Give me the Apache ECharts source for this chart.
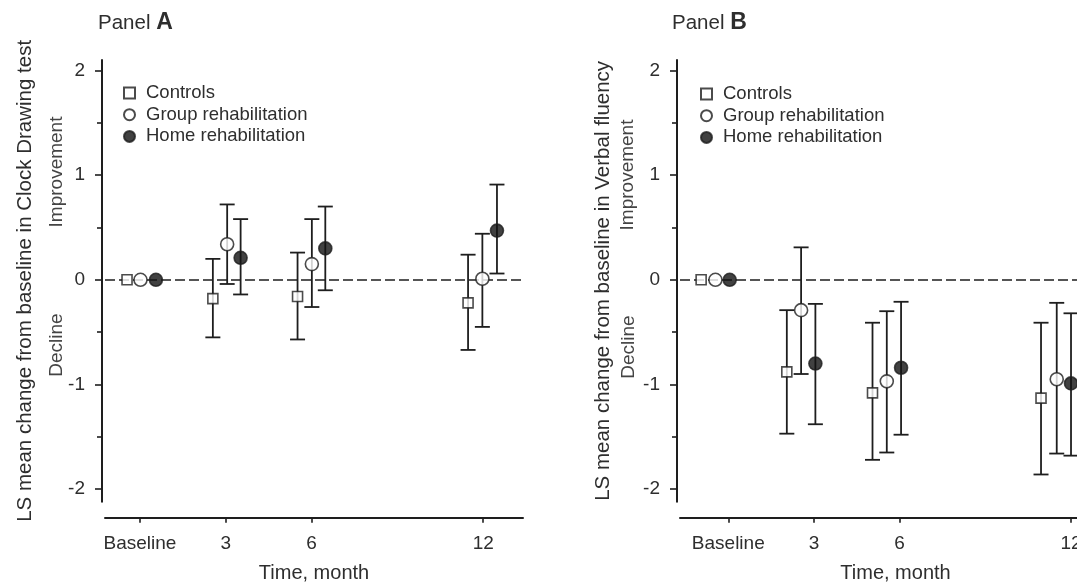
<!DOCTYPE html>
<html>
<head>
<meta charset="utf-8">
<script src="https://cdn.jsdelivr.net/npm/echarts@6/dist/echarts.min.js"></script>
<style>
  html, body { margin: 0; padding: 0; background: #fff; }
  #chart { width: 1077px; height: 584px; }
</style>
</head>
<body>
<div id="chart"></div>
<script>
var seriesNames = ['Controls', 'Group rehabilitation', 'Home rehabilitation'];
var xTickValues = [0, 3, 6, 12];
var xTickLabels = ['Baseline', '3', '6', '12'];
var yTickValues = [-2, -1, 0, 1, 2];
var yMinorTicks = [-1.5, -0.5, 0.5, 1.5];

// Panel A - Clock Drawing test (x in months, points are dodged around each visit)
var aCtrlX = [-0.45, 2.55, 5.51, 11.47];
var aCtrlMean = [0, -0.18, -0.16, -0.22];
var aCtrlLow = [null, -0.55, -0.57, -0.67];
var aCtrlHigh = [null, 0.20, 0.26, 0.24];

var aGroupX = [0.02, 3.05, 6.01, 11.97];
var aGroupMean = [0, 0.34, 0.15, 0.01];
var aGroupLow = [null, -0.04, -0.26, -0.45];
var aGroupHigh = [null, 0.72, 0.58, 0.44];

var aHomeX = [0.56, 3.52, 6.48, 12.48];
var aHomeMean = [0, 0.21, 0.30, 0.47];
var aHomeLow = [null, -0.14, -0.10, 0.06];
var aHomeHigh = [null, 0.58, 0.70, 0.91];

// Panel B - Verbal fluency
var bCtrlX = [-0.95, 2.05, 5.05, 10.95];
var bCtrlMean = [0, -0.88, -1.08, -1.13];
var bCtrlLow = [null, -1.47, -1.72, -1.86];
var bCtrlHigh = [null, -0.29, -0.41, -0.41];

var bGroupX = [-0.45, 2.55, 5.55, 11.5];
var bGroupMean = [0, -0.29, -0.97, -0.95];
var bGroupLow = [null, -0.90, -1.65, -1.66];
var bGroupHigh = [null, 0.31, -0.30, -0.22];

var bHomeX = [0.05, 3.05, 6.05, 12.0];
var bHomeMean = [0, -0.80, -0.84, -0.99];
var bHomeLow = [null, -1.38, -1.48, -1.68];
var bHomeHigh = [null, -0.23, -0.21, -0.32];

var FONT = '"Liberation Sans", Arial, sans-serif';
var INK = '#1e1e1e';
var TXT = '#2e2e2e';

function pts(xs, ys) {
    return xs.map(function (x, i) { return [x, ys[i]]; });
}
function bars(xs, lo, hi) {
    var out = [];
    xs.forEach(function (x, i) {
        if (lo[i] != null) out.push([x, lo[i], hi[i]]);
    });
    return out;
}

function errorBar(params, api) {
    var top = api.coord([api.value(0), api.value(2)]);
    var bot = api.coord([api.value(0), api.value(1)]);
    var hw = 7.5;
    var st = { stroke: INK, lineWidth: 1.8 };
    return {
        type: 'group',
        children: [
            { type: 'line', shape: { x1: top[0], y1: top[1], x2: bot[0], y2: bot[1] }, style: st },
            { type: 'line', shape: { x1: top[0] - hw, y1: top[1], x2: top[0] + hw, y2: top[1] }, style: st },
            { type: 'line', shape: { x1: bot[0] - hw, y1: bot[1], x2: bot[0] + hw, y2: bot[1] }, style: st }
        ]
    };
}

var markerStyles = [
    { symbol: 'rect', symbolSize: 10, itemStyle: { color: '#fff', borderColor: INK, borderWidth: 1.6 } },
    { symbol: 'circle', symbolSize: 13, itemStyle: { color: '#fff', borderColor: INK, borderWidth: 1.6 } },
    { symbol: 'circle', symbolSize: 13, itemStyle: { color: '#111', borderColor: INK, borderWidth: 1.6 } }
];

function panelSeries(g, xsList, meanList, lowList, highList) {
    var out = [];
    for (var k = 0; k < 3; k++) {
        out.push({
            type: 'custom',
            xAxisIndex: g, yAxisIndex: g * 2,
            renderItem: errorBar,
            data: bars(xsList[k], lowList[k], highList[k]),
            z: 2, silent: true
        });
    }
    for (var k2 = 0; k2 < 3; k2++) {
        var s = {
            type: 'scatter',
            name: seriesNames[k2],
            xAxisIndex: g, yAxisIndex: g * 2,
            symbol: markerStyles[k2].symbol,
            symbolSize: markerStyles[k2].symbolSize,
            itemStyle: markerStyles[k2].itemStyle,
            data: pts(xsList[k2], meanList[k2]),
            z: 4
        };
        if (k2 === 0) {
            s.markLine = {
                silent: true, symbol: 'none', z: 1,
                label: { show: false },
                lineStyle: { type: [10, 4], color: INK, width: 1.6 },
                data: [{ yAxis: 0 }]
            };
        }
        out.push(s);
    }
    return out;
}

function xAxisFor(g, min, max) {
    return {
        type: 'value', gridIndex: g, min: min, max: max, position: 'bottom', offset: 16,
        name: 'Time, month', nameLocation: 'middle', nameGap: 46,
        nameTextStyle: { fontFamily: FONT, fontSize: 20, color: TXT },
        axisLine: { show: true, onZero: false, lineStyle: { color: INK, width: 2 } },
        axisTick: { show: true, customValues: xTickValues, length: 5, lineStyle: { color: INK, width: 1.6 } },
        axisLabel: {
            customValues: xTickValues, margin: 17,
            fontFamily: FONT, fontSize: 19, color: TXT,
            formatter: function (v) { return xTickLabels[xTickValues.indexOf(v)]; }
        },
        splitLine: { show: false }
    };
}

function yAxesFor(g, title, gap) {
    return [{
        type: 'value', gridIndex: g, min: -2.12, max: 2.1, position: 'left', offset: 3,
        name: title, nameLocation: 'middle', nameGap: gap, nameRotate: 90,
        nameTextStyle: { fontFamily: FONT, fontSize: 20.5, color: TXT },
        axisLine: { show: true, onZero: false, lineStyle: { color: INK, width: 2 } },
        axisTick: { show: true, customValues: yTickValues, length: 7, lineStyle: { color: INK, width: 1.6 } },
        axisLabel: { customValues: yTickValues, margin: 17, fontFamily: FONT, fontSize: 19, color: TXT },
        splitLine: { show: false }
    }, {
        type: 'value', gridIndex: g, min: -2.12, max: 2.1, position: 'left', offset: 3,
        axisLine: { show: false, onZero: false },
        axisTick: { show: true, customValues: yMinorTicks, length: 5, lineStyle: { color: INK, width: 1.6 } },
        axisLabel: { show: false },
        splitLine: { show: false }
    }];
}

function legendFor(left, top) {
    return {
        left: left, top: top, orient: 'vertical',
        itemWidth: 11, itemHeight: 11, itemGap: 1.7,
        textStyle: { fontFamily: FONT, fontSize: 18.5, color: TXT, lineHeight: 20, padding: [0, 0, 0, 6] },
        data: seriesNames.map(function (n) { return { name: n }; }),
        selectedMode: false
    };
}

function sideText(x, y, txt) {
    return {
        type: 'text', x: x, y: y, rotation: Math.PI / 2,
        style: { text: txt, fontFamily: FONT, fontSize: 19, fill: '#444', textAlign: 'center', textVerticalAlign: 'middle' }
    };
}
function panelTitle(x, letter) {
    return {
        type: 'text', x: x, y: 23,
        style: {
            text: '{a|Panel }{b|' + letter + '}',
            textVerticalAlign: 'middle',
            rich: {
                a: { fontFamily: FONT, fontSize: 20.5, fill: TXT },
                b: { fontFamily: FONT, fontSize: 23, fontWeight: 'bold', fill: TXT }
            }
        }
    };
}

var chart = echarts.init(document.getElementById('chart'), null, { renderer: 'canvas' });
var option = {
    backgroundColor: '#fff',
    animation: false,
    grid: [
        { left: 105, top: 60, width: 418, height: 441.7, outerBoundsMode: 'none', containLabel: false },
        { left: 680, top: 60, width: 431, height: 441.7, outerBoundsMode: 'none', containLabel: false }
    ],
    xAxis: [xAxisFor(0, -1.22, 13.39), xAxisFor(1, -1.69, 13.4)],
    yAxis: yAxesFor(0, 'LS mean change from baseline in Clock Drawing test', 66)
        .concat(yAxesFor(1, 'LS mean change from baseline in Verbal fluency', 63)),
    legend: [legendFor(118, 78), legendFor(695, 79)],
    graphic: [
        panelTitle(98, 'A'),
        panelTitle(672, 'B'),
        sideText(57, 172, 'Improvement'),
        sideText(57, 345, 'Decline'),
        sideText(628, 175, 'Improvement'),
        sideText(629, 347, 'Decline')
    ],
    series: panelSeries(0, [aCtrlX, aGroupX, aHomeX], [aCtrlMean, aGroupMean, aHomeMean],
            [aCtrlLow, aGroupLow, aHomeLow], [aCtrlHigh, aGroupHigh, aHomeHigh])
        .concat(panelSeries(1, [bCtrlX, bGroupX, bHomeX], [bCtrlMean, bGroupMean, bHomeMean],
            [bCtrlLow, bGroupLow, bHomeLow], [bCtrlHigh, bGroupHigh, bHomeHigh]))
};
chart.setOption(option);
</script>
</body>
</html>
